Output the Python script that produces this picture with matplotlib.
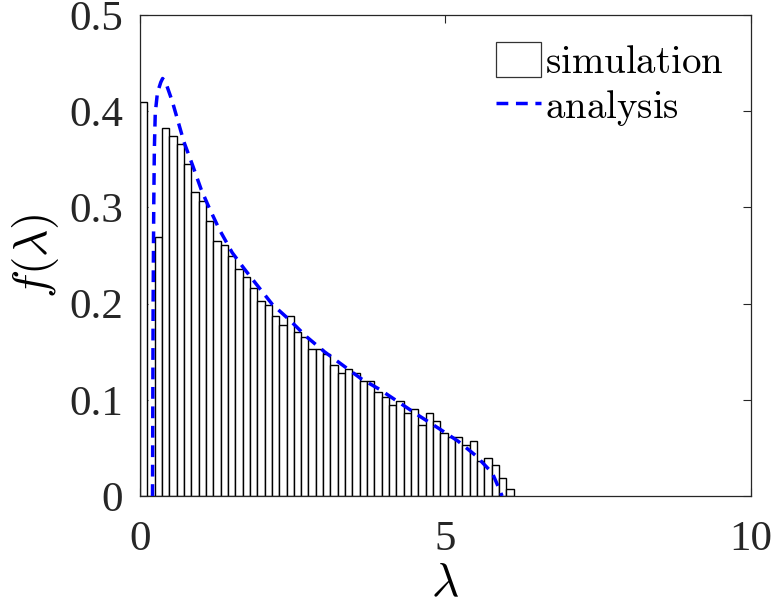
import matplotlib
matplotlib.use("Agg")
import matplotlib.pyplot as plt
from matplotlib.patches import Patch
from matplotlib.lines import Line2D
import numpy as np

# ---- data ----
bin_width = 0.12
sim_heights = [0.410, 0.0, 0.269, 0.383, 0.374, 0.366, 0.345, 0.316, 0.307, 0.286,
               0.265, 0.261, 0.249, 0.236, 0.228, 0.216, 0.203, 0.199, 0.187, 0.178,
               0.187, 0.170, 0.165, 0.153, 0.153, 0.148, 0.136, 0.128, 0.132, 0.128,
               0.120, 0.120, 0.108, 0.103, 0.095, 0.099, 0.086, 0.090, 0.074, 0.086,
               0.078, 0.065, 0.061, 0.061, 0.053, 0.057, 0.036, 0.040, 0.032, 0.019,
               0.007]
lam_analysis = [0.205, 0.21, 0.215, 0.225, 0.235, 0.25, 0.285, 0.34, 0.37, 0.42,
                0.53, 0.72, 0.86, 1.00, 1.13, 1.30, 1.51, 1.71, 1.92, 2.17,
                2.45, 2.72, 3.02, 3.32, 3.62, 3.92, 4.25, 4.58, 4.90, 5.21,
                5.50, 5.77, 5.90, 5.93]
f_analysis = [0.0, 0.10, 0.20, 0.30, 0.36, 0.398, 0.419, 0.430, 0.434, 0.430,
              0.410, 0.368, 0.344, 0.319, 0.300, 0.277, 0.253, 0.236, 0.219, 0.199,
              0.183, 0.166, 0.150, 0.136, 0.122, 0.111, 0.097, 0.083, 0.070, 0.057,
              0.042, 0.024, 0.005, 0.0]
xticks = [0, 5, 10]
yticks = [0, 0.1, 0.2, 0.3, 0.4, 0.5]

plt.rcParams['mathtext.fontset'] = 'cm'
plt.rcParams['font.family'] = ['Liberation Serif', 'DejaVu Serif']

fig = plt.figure(figsize=(7.75, 6.11), dpi=100)
ax = fig.add_axes([140 / 775, 1 - 496 / 611, (750.5 - 140) / 775, (496 - 15) / 611])

left_edges = np.arange(len(sim_heights)) * bin_width
ax.bar(left_edges, sim_heights, width=bin_width, align='edge',
       facecolor='white', edgecolor='black', linewidth=1.0, zorder=2)
ax.plot(lam_analysis, f_analysis, color='#0000ff', linestyle=(0, (3.4, 2.2)),
        linewidth=2.5, zorder=3)

ax.set_xlim(0, 10)
ax.set_ylim(0, 0.5)
ax.set_xticks(xticks)
ax.set_yticks(yticks)
ax.set_xticklabels([str(t) for t in xticks])
ax.set_yticklabels(['0', '0.1', '0.2', '0.3', '0.4', '0.5'])
ax.tick_params(direction='in', length=6, width=0.8, top=True, right=True,
               labelsize=31, colors='#262626')
ax.tick_params(axis='x', pad=18)
ax.tick_params(axis='y', pad=12)
for s in ax.spines.values():
    s.set_color('#262626')
    s.set_linewidth(0.9)

ax.set_xlabel(r'$\lambda$', fontsize=34, labelpad=3)
ax.set_ylabel(r'$f(\lambda)$', fontsize=34, labelpad=6)

handles = [Patch(facecolor='white', edgecolor='#333333', linewidth=0.9),
           Line2D([0], [0], color='#0000ff', linestyle=(0, (3.4, 2.2)), linewidth=2.5)]
leg = ax.legend(handles, [r'$\mathrm{simulation}$', r'$\mathrm{analysis}$'],
                loc='upper right', frameon=False, fontsize=28,
                handlelength=1.15, handleheight=1.0, handletextpad=0.1,
                labelspacing=0.15, borderaxespad=0.3, bbox_to_anchor=(1.0, 1.0))

fig.savefig('out.png', dpi=100)
